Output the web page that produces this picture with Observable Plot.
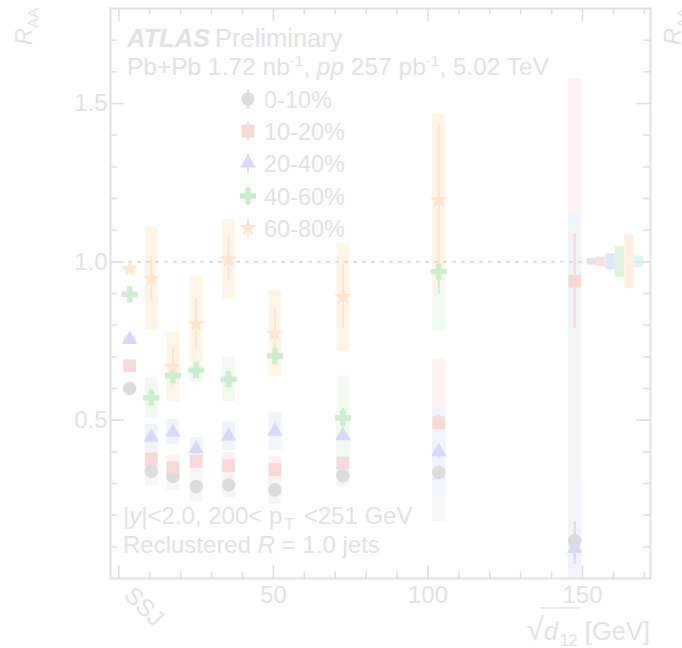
<!DOCTYPE html>
<html><head><meta charset="utf-8">
<script src="https://cdn.jsdelivr.net/npm/d3@7"></script>
<script src="https://cdn.jsdelivr.net/npm/@observablehq/plot@0.6"></script>
<style>html,body{margin:0;padding:0;background:#fff;}</style>
</head><body><div id="chart"></div>
<script>
// ---- data ----
const binX = [3.5, 10.5, 17.5, 25, 35.5, 50.5, 72.5, 103.5, 147.5];
const centLabels = ["0-10%", "10-20%", "20-40%", "40-60%", "60-80%"];

const raa0_10  = [0.600, 0.339, 0.323, 0.290, 0.296, 0.280, 0.325, 0.335, 0.120];
const stat0_10 = [0.005, 0.010, 0.010, 0.010, 0.010, 0.010, 0.012, 0.020, 0.060];
const sys0_10  = [0.010, 0.047, 0.045, 0.048, 0.040, 0.045, 0.035, 0.155, 1.000];

const raa10_20  = [0.672, 0.378, 0.350, 0.370, 0.357, 0.344, 0.365, 0.492, 0.939];
const stat10_20 = [0.005, 0.010, 0.010, 0.010, 0.010, 0.010, 0.012, 0.023, 0.150];
const sys10_20  = [0.010, 0.040, 0.040, 0.035, 0.040, 0.040, 0.035, 0.200, 0.640];

const raa20_40  = [0.755, 0.446, 0.462, 0.410, 0.449, 0.465, 0.451, 0.400, 0.095];
const stat20_40 = [0.005, 0.010, 0.010, 0.010, 0.010, 0.012, 0.012, 0.020, 0.050];
const sys20_40  = [0.010, 0.040, 0.040, 0.035, 0.045, 0.060, 0.050, 0.140, 1.060];

const raa40_60  = [0.897, 0.571, 0.641, 0.658, 0.629, 0.703, 0.507, 0.969];
const stat40_60 = [0.010, 0.020, 0.030, 0.020, 0.020, 0.030, 0.030, 0.070];
const sys40_60  = [0.010, 0.065, 0.050, 0.040, 0.070, 0.055, 0.130, 0.190];

const raa60_80  = [0.977, 0.947, 0.668, 0.803, 1.008, 0.773, 0.889, 1.195];
const stat60_80 = [0.010, 0.070, 0.060, 0.080, 0.070, 0.080, 0.100, 0.240];
const sys60_80  = [0.010, 0.163, 0.110, 0.150, 0.125, 0.136, 0.170, 0.270];

// normalisation uncertainty boxes at R_AA = 1
const normX   = [153.0, 156.0, 159.1, 162.1, 165.2, 168.3];
const normErr = [0.0105, 0.015, 0.025, 0.049, 0.085, 0.018];
const normColors = ["#e2e2e2", "#f8dfe0", "#e0e6fa", "#dff1df", "#fef0df", "#def6f5"];

// axis ticks
const yMajor = [0.5, 1.0, 1.5];
const yMinor = [0.1,0.2,0.3,0.4,0.6,0.7,0.8,0.9,1.1,1.2,1.3,1.4,1.6,1.7];
const xMajor = [0, 50, 100, 150];
const xMinor = [10,20,30,40,60,70,80,90,110,120,130,140,160,170];
const xLabels = [50, 100, 150];

// ---- style ----
const FONT = "Liberation Sans, Arial, sans-serif";
const TXT = "#e2e2e2";
const FR = "#e0e0e0";
const W = 682, H = 648, mL = 110, mR = 32, mT = 8, mB = 70;
const fw = W - mL - mR, fh = H - mT - mB;

const seriesDefs = [
  {name: centLabels[0], v: raa0_10,  st: stat0_10,  sy: sys0_10,  symbol: "circle",   r: 6.8, color: "#dcdcdc", box: "#f6f6f6"},
  {name: centLabels[1], v: raa10_20, st: stat10_20, sy: sys10_20, symbol: "square",   r: 7.2, color: "#f6d8d9", box: "#fdf1f1"},
  {name: centLabels[2], v: raa20_40, st: stat20_40, sy: sys20_40, symbol: "triangle", r: 5.8, color: "#d9d9f6", box: "#f1f3fd"},
  {name: centLabels[3], v: raa40_60, st: stat40_60, sy: sys40_60, symbol: "cross",    r: 6.8, color: "#cdeccd", box: "#f0faf0"},
  {name: centLabels[4], v: raa60_80, st: stat60_80, sy: sys60_80, symbol: "star",     r: 5.6, color: "#fde6cf", box: "#fff4e8"}
];
const series = seriesDefs.map(s => ({...s, data: s.v.map((v, i) => ({x: binX[i], v, stat: s.st[i], sys: s.sy[i]}))}));
const normRows = normX.map((x, i) => ({x, e: normErr[i], c: normColors[i]}));

const marks = [];
series.forEach(s => marks.push(Plot.ruleX(s.data, {x: "x", y1: d => d.v - d.sys, y2: d => d.v + d.sys, stroke: s.box, strokeWidth: 13, clip: true})));
marks.push(Plot.ruleY([1], {stroke: "#d2d2d2", strokeWidth: 1.5, strokeDasharray: "4,5"}));
marks.push(Plot.rect(normRows, {x1: d => d.x - 1.5, x2: d => d.x + 1.5, y1: d => 1 - d.e, y2: d => 1 + d.e, fill: "c"}));
series.forEach(s => marks.push(Plot.ruleX(s.data, {x: "x", y1: d => d.v - d.stat, y2: d => d.v + d.stat, stroke: s.color, strokeWidth: 2, clip: true})));
series.forEach(s => marks.push(Plot.dot(s.data, {x: "x", y: "v", symbol: s.symbol, r: s.r, fill: s.color, stroke: "none", clip: true})));
// frame and inward ticks
marks.push(Plot.frame({stroke: FR, strokeWidth: 2}));
const tk = {stroke: FR, strokeWidth: 1.6};
marks.push(Plot.tickY(yMajor, {y: d => d, insetRight: fw - 14, ...tk}));
marks.push(Plot.tickY(yMinor, {y: d => d, insetRight: fw - 7, ...tk}));
marks.push(Plot.tickY(yMajor, {y: d => d, insetLeft: fw - 14, ...tk}));
marks.push(Plot.tickY(yMinor, {y: d => d, insetLeft: fw - 7, ...tk}));
marks.push(Plot.tickX(xMajor, {x: d => d, insetTop: fh - 13, ...tk}));
marks.push(Plot.tickX(xMinor, {x: d => d, insetTop: fh - 6.5, ...tk}));
marks.push(Plot.tickX(xMajor, {x: d => d, insetBottom: fh - 13, ...tk}));
marks.push(Plot.tickX(xMinor, {x: d => d, insetBottom: fh - 6.5, ...tk}));
marks.push(Plot.axisY({ticks: yMajor, tickSize: 0, tickPadding: 3, tickFormat: d3.format(".1f"), fontSize: 24, color: TXT, label: null}));
marks.push(Plot.axisX({ticks: xLabels, tickSize: 0, tickPadding: 7, fontSize: 24, color: TXT, label: null}));
marks.push(Plot.text([{x: 0, t: "SSJ"}], {x: "x", text: "t", frameAnchor: "bottom", dx: 16, dy: 6, rotate: 45, textAnchor: "start", lineAnchor: "top", fontSize: 24, fill: TXT}));

const plot = Plot.plot({
  width: W, height: H, marginLeft: mL, marginRight: mR, marginTop: mT, marginBottom: mB,
  x: {domain: [-2.7, 172], axis: null},
  y: {domain: [0, 1.8], axis: null},
  style: {fontFamily: FONT, background: "#fff", overflow: "hidden"},
  marks
});
document.getElementById("chart").appendChild(plot);

// ---- annotations ----
const svg = d3.select(plot);
const g = svg.append("g").attr("font-family", FONT).attr("fill", TXT);

function line(x, y, size, parts, anchor = "start", transform = null) {
  const t = g.append("text").attr("x", x).attr("y", y).attr("font-size", size).attr("text-anchor", anchor);
  if (transform) t.attr("transform", transform);
  parts.forEach(p => {
    const s = t.append("tspan").text(p.t);
    if (p.b) s.attr("font-weight", "bold");
    if (p.i) s.attr("font-style", "italic");
    if (p.s) s.attr("font-size", p.s);
    if (p.dy) s.attr("dy", p.dy);
    if (p.dx) s.attr("dx", p.dx);
  });
  return t;
}
line(127, 47, 25.5, [{t: "ATLAS", b: 1, i: 1}]);
line(215, 47, 25.5, [{t: "Preliminary"}]);
line(127, 75, 24.5, [{t: "Pb+Pb 1.72 nb"}, {t: "-1", s: 15, dy: -9}, {t: ", ", dy: 9}, {t: "pp", i: 1}, {t: " 257 pb"}, {t: "-1", s: 15, dy: -9}, {t: ", 5.02 TeV", dy: 9}]);

const legY = [99, 131, 163, 196, 228];
const symMap = {circle: d3.symbolCircle, square: d3.symbolSquare, triangle: d3.symbolTriangle, cross: d3.symbolCross, star: d3.symbolStar};
series.forEach((s, i) => {
  g.append("line").attr("x1", 248).attr("x2", 248).attr("y1", legY[i] - 9.5).attr("y2", legY[i] + 9.5).attr("stroke", s.color).attr("stroke-width", 2);
  g.append("path").attr("transform", `translate(248,${legY[i]})`).attr("d", d3.symbol(symMap[s.symbol], Math.PI * s.r * s.r)()).attr("fill", s.color);
  line(264, legY[i] + 8.5, 23.5, [{t: s.name}]);
});

line(123, 524, 24, [{t: "|"}, {t: "y", i: 1}, {t: "|<2.0, 200< p"}, {t: "T", s: 16, dy: 6, dx: 2}, {t: " <251 GeV", dy: -6, dx: 3}]);
line(123, 553, 24, [{t: "Reclustered "}, {t: "R", i: 1}, {t: " = 1.0 jets"}]);

line(32, 8, 24, [{t: "R", i: 1}, {t: "AA", s: 15, dy: 6}], "end", "rotate(-90,32,8)");
line(681, 8, 24, [{t: "R", i: 1}, {t: "AA", s: 15, dy: 6}], "end", "rotate(-90,681,8)");

const xt = line(650, 640, 25.5, [{t: "√", s: 32}, {t: "d", i: 1}, {t: "12", s: 16, dy: 6, dx: 2}, {t: " [GeV]", dy: -6}], "end");
try {
  const n = xt.node();
  const a = n.getStartPositionOfChar(1).x - 4;
  const b = n.getEndPositionOfChar(3).x + 2;
  g.append("line").attr("x1", a).attr("x2", b).attr("y1", 608).attr("y2", 608).attr("stroke", TXT).attr("stroke-width", 1.5);
} catch (e) {}
</script>
</body></html>
